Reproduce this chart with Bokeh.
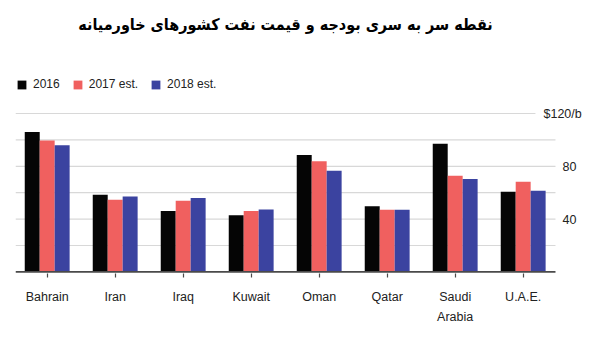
from bokeh.plotting import figure
from bokeh.models import ColumnDataSource, FixedTicker, Legend, LegendItem
from bokeh.core.properties import value
from bokeh.transform import dodge
from bokeh.embed import file_html
from bokeh.resources import INLINE

# ---- data ----
title_text = "نقطه سر به سری بودجه و قیمت نفت کشورهای خاورمیانه"
categories = ["Bahrain", "Iran", "Iraq", "Kuwait", "Oman", "Qatar", "Saudi\nArabia", "U.A.E."]
series_names = ["2016", "2017 est.", "2018 est."]
v2016 = [106.0, 58.5, 46.2, 42.9, 88.6, 49.7, 97.1, 60.8]
v2017 = [99.5, 54.7, 54.0, 46.2, 83.9, 47.0, 72.8, 68.3]
v2018 = [96.0, 57.2, 56.0, 47.2, 76.6, 47.0, 70.3, 61.5]
y_label_ticks = [40, 80]
y_labels = ["40", "80"]
grid_ticks = [20, 40, 60, 80, 100]
top_tick = 120
top_label = "$120/b"

colors = ["#050505", "#f0605f", "#3b43a0"]
FONT = "Liberation Sans"
TXT = "#222222"
GRID = "#d8d8d8"

X0, X1 = -0.466, 7.475      # extent of the plotted area (categories axis units)

xs = list(range(len(categories)))
src = ColumnDataSource(dict(x=xs, v2016=v2016, v2017=v2017, v2018=v2018))

p = figure(width=600, height=358, output_backend="svg", toolbar_location=None,
           x_range=(X0, 8.137), y_range=(-1.2, 205.6),
           y_axis_location=None, min_border_left=15, min_border_right=0,
           min_border_top=0, min_border_bottom=85)
p.outline_line_color = None
p.background_fill_color = "white"
p.border_fill_color = "white"
p.xgrid.visible = False
p.ygrid.visible = False

# grid lines
gsrc = ColumnDataSource(dict(x0=[X0] * len(grid_ticks), x1=[X1] * len(grid_ticks),
                             y=grid_ticks))
p.segment(x0="x0", x1="x1", y0="y", y1="y", source=gsrc, line_color=GRID, line_width=1.2)
p.segment(x0=[X0], x1=[7.18], y0=[top_tick], y1=[top_tick], line_color=GRID, line_width=1.2)

bw = 0.22
r1 = p.vbar(x=dodge("x", -bw), top="v2016", width=bw, source=src,
            fill_color=colors[0], line_color=None)
r2 = p.vbar(x=dodge("x", 0), top="v2017", width=bw, source=src,
            fill_color=colors[1], line_color=None)
r3 = p.vbar(x=dodge("x", bw), top="v2018", width=bw, source=src,
            fill_color=colors[2], line_color=None)

# baseline
p.segment(x0=[X0], x1=[X1], y0=[0], y1=[0], line_color="#4a4a4a", line_width=1.6)

# y labels
p.text(x=[7.578] * len(y_label_ticks), y=y_label_ticks, text=y_labels,
       text_font=value(FONT), text_font_size="12.5px", text_color=TXT,
       text_baseline="middle", text_align="left")
p.text(x=[7.299], y=[top_tick], text=[top_label],
       text_font=value(FONT), text_font_size="12.5px", text_color=TXT,
       text_baseline="middle", text_align="left")

# x axis
xa = p.xaxis[0]
xa.ticker = FixedTicker(ticks=xs)
xa.major_label_overrides = {i: c for i, c in enumerate(categories)}
xa.axis_line_color = None
xa.major_tick_line_color = "#4a4a4a"
xa.major_tick_line_width = 1.2
xa.major_tick_out = 4
xa.major_tick_in = 0
xa.minor_tick_line_color = None
xa.major_label_standoff = 12
xa.major_label_text_font = FONT
xa.major_label_text_font_size = "12.5px"
xa.major_label_text_color = TXT
xa.major_label_text_line_height = 1.43

# title
p.text(x=[3.5045], y=[187.3], text=[title_text], text_font=value("DejaVu Sans Condensed"),
       text_font_style="bold", text_font_size="16px", text_color="#000000",
       text_baseline="middle", text_align="center")

# legend
legend = Legend(items=[LegendItem(label=series_names[0], renderers=[r1]),
                       LegendItem(label=series_names[1], renderers=[r2]),
                       LegendItem(label=series_names[2], renderers=[r3])],
                orientation="horizontal", location=(1, 182),
                glyph_width=11, glyph_height=11, label_height=11, label_width=10,
                label_standoff=6, spacing=12, padding=0, margin=0,
                background_fill_alpha=0, border_line_color=None,
                label_text_font=FONT, label_text_font_size="12px",
                label_text_color=TXT)
p.add_layout(legend, "center")

open("out.html", "w").write(file_html(p, INLINE))
